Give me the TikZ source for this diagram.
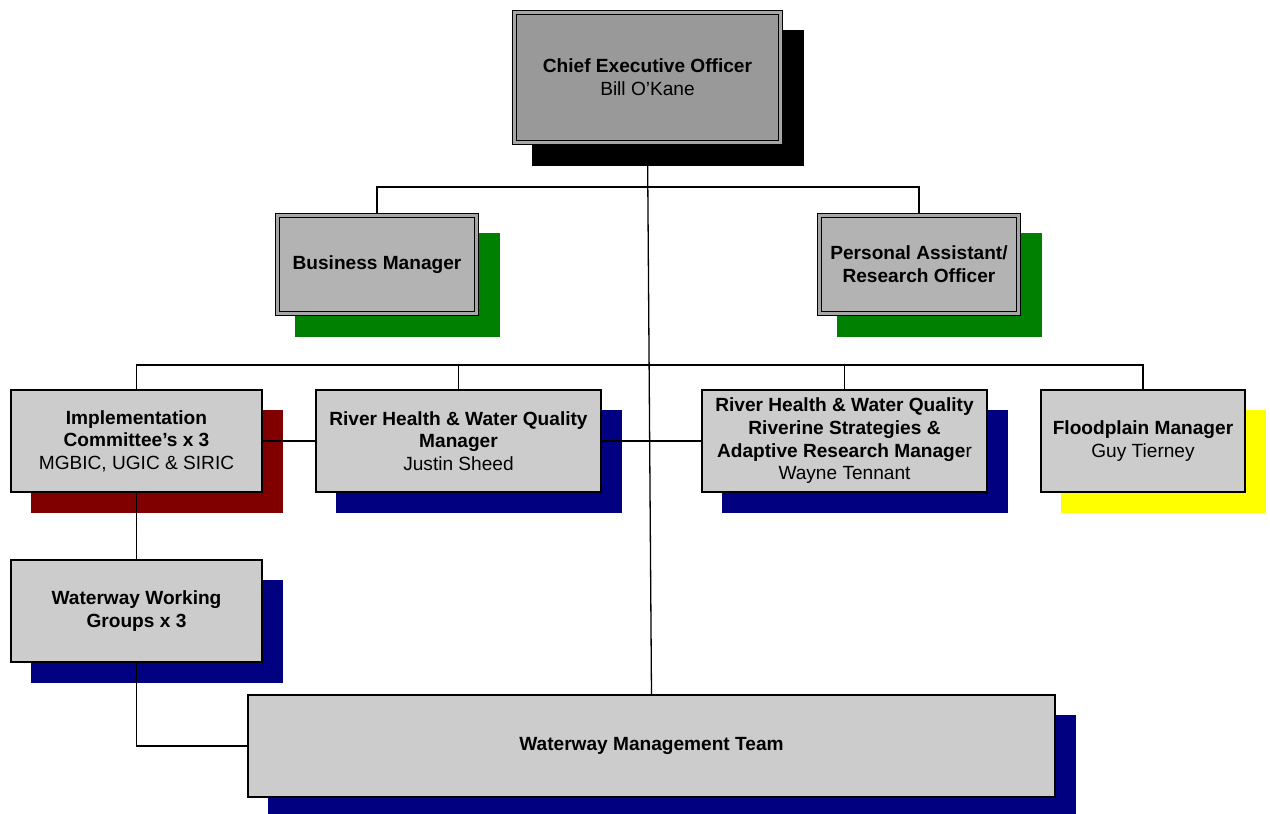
\documentclass[tikz,border=0pt]{standalone}
\usepackage{fontspec}
\setmainfont{Liberation Sans}
\usetikzlibrary{calc}
\pgfdeclarelayer{background}
\pgfsetlayers{background,main}
\definecolor{ceofill}{HTML}{999999}
\definecolor{midfill}{HTML}{B3B3B3}
\definecolor{boxfill}{HTML}{CCCCCC}
\definecolor{gapgray}{HTML}{A6A6A6}
\definecolor{shgreen}{HTML}{008000}
\definecolor{shred}{HTML}{800000}
\definecolor{shnavy}{HTML}{000080}
\definecolor{shyellow}{HTML}{FFFF00}
\tikzset{
  base/.style={inner sep=0pt, outer sep=0pt, align=center, font=\fontsize{19.1}{22.7}\selectfont},
  dblbox/.style={base, draw, line width=1.2pt, double=gapgray, double distance=2.6pt},
  onebox/.style={base, draw, line width=1.4pt, fill=boxfill},
  conn/.style={draw=black, line width=1.3pt},
}
\newcommand{\shadowbox}[3]{\fill[#2] ($(#1.north west)+(20,20)-(#3,#3)$) rectangle ($(#1.south east)+(21,21)+(#3,#3)$);}
\begin{document}
\begin{tikzpicture}[x=1pt,y=-1pt]
\useasboundingbox (0,0) rectangle (1270,814);
% boxes
\node[dblbox, fill=ceofill, minimum width=266pt, minimum height=130pt] (ceo) at (647.5,77.5)
  {\textbf{Chief Executive Officer}\\Bill O’Kane};
\node[dblbox, fill=midfill, minimum width=199pt, minimum height=98pt] (bm) at (377,264.5)
  {\textbf{Business Manager}};
\node[dblbox, fill=midfill, minimum width=199pt, minimum height=98pt] (pa) at (919,264.5)
  {\textbf{Personal Assistant/}\\\textbf{Research Officer}};
\node[onebox, minimum width=251pt, minimum height=102pt] (impl) at (136.5,441)
  {\textbf{Implementation}\\\textbf{Committee’s x 3}\\MGBIC, UGIC \& SIRIC};
\node[onebox, minimum width=285pt, minimum height=102pt] (rh) at (458.5,441)
  {\textbf{River Health \& Water Quality}\\\textbf{Manager}\\Justin Sheed};
\node[onebox, minimum width=285pt, minimum height=102pt] (rhb) at (844.5,441)
  {\textbf{River Health \& Water Quality}\\\textbf{Riverine Strategies \&}\\\textbf{Adaptive Research Manage}r\\Wayne Tennant};
\node[onebox, minimum width=204pt, minimum height=102pt] (fp) at (1143,441)
  {\textbf{Floodplain Manager}\\Guy Tierney};
\node[onebox, minimum width=251pt, minimum height=102pt] (wwg) at (136.5,611)
  {\textbf{Waterway Working}\\\textbf{Groups x 3}};
\node[onebox, minimum width=807pt, minimum height=102pt] (wmt) at (651.5,746)
  {\textbf{Waterway Management Team}};
\coordinate (busa) at (648,187);
\coordinate (busb) at (648,365);
\begin{pgfonlayer}{background}
  \fill[white] (0,0) rectangle (1270,814);
  \shadowbox{ceo}{black}{2.5}
  \shadowbox{bm}{shgreen}{2.5}
  \shadowbox{pa}{shgreen}{2.5}
  \shadowbox{impl}{shred}{0}
  \shadowbox{rh}{shnavy}{0}
  \shadowbox{rhb}{shnavy}{0}
  \shadowbox{fp}{shyellow}{0}
  \shadowbox{wwg}{shnavy}{0}
  \shadowbox{wmt}{shnavy}{0}
  \draw[conn] (ceo.south) -- (wmt.north);
  \draw[conn] (bm.north) |- (busa) -| (pa.north);
  \draw[conn] (impl.north) |- (busb) -| (fp.north);
  \draw[conn] (rh.north) |- (busb);
  \draw[conn] (rhb.north) |- (busb);
  \draw[conn] (impl.east) -- (rh.west);
  \draw[conn] (rh.east) -- (rhb.west);
  \draw[conn] (impl.south) -- (wwg.north);
  \draw[conn] (wwg.south) |- (wmt.west);
\end{pgfonlayer}
\end{tikzpicture}
\end{document}
